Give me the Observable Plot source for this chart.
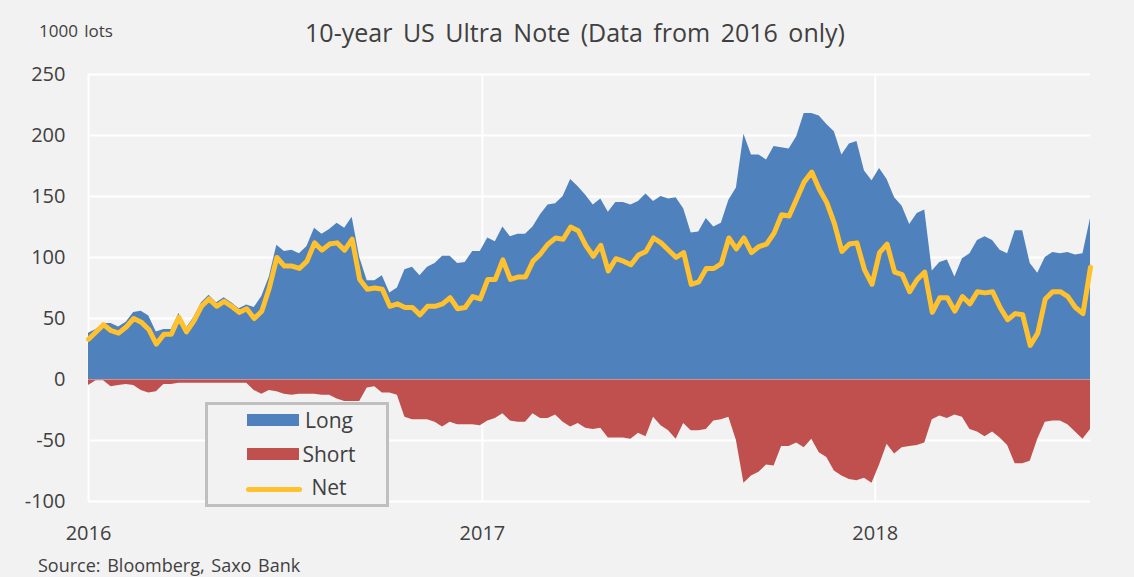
<!DOCTYPE html>
<html>
<head>
<meta charset="utf-8">
<script src="https://cdn.jsdelivr.net/npm/d3@7"></script>
<script src="https://cdn.jsdelivr.net/npm/@observablehq/plot@0.6"></script>
<style>
  html, body { margin: 0; padding: 0; background: #f2f2f2; }
  #wrap { position: relative; width: 1134px; height: 577px; overflow: hidden; background: #f2f2f2;
          font-family: "Open Sans", sans-serif; color: #404040; }
  #chart { position: absolute; left: 0; top: 0; }
  .txt { position: absolute; white-space: nowrap; line-height: normal; }
  #title { top: 15px; left: 575px; transform: translateX(-50%); font-size: 25px; word-spacing: 4px; }
  #unit { top: 19px; left: 39px; font-size: 17px; word-spacing: 2px; }
  #source { top: 553px; left: 38px; font-size: 18px; word-spacing: 2px; }
  #legend { position: absolute; left: 205px; top: 402px; width: 178px; height: 99px;
            border: 3px solid #bfbfbf; background: #f2f2f2; }
  .sw { position: absolute; }
  .lt { position: absolute; font-size: 21px; line-height: normal; transform: translateX(-50%); }
</style>
</head>
<body>
<div id="wrap">
  <div id="chart"></div>
  <div id="title" class="txt"></div>
  <div id="unit" class="txt"></div>
  <div id="source" class="txt"></div>
  <div id="legend"></div>
</div>
<script>
// Weekly positioning, first report week 2016-01-01
const firstWeek = [2016, 0, 1];

const longPos = [38, 41, 46, 46, 43, 47, 55, 56, 52, 39,
  41, 41, 54, 42, 51, 63, 69, 63, 67, 63,
  58, 61, 59, 68, 84, 110, 105, 106, 103, 109,
  124, 119, 123, 128, 124, 133, 100, 81, 81, 85,
  71, 75, 90, 92, 85, 92, 95, 101, 101, 95,
  96, 105, 105, 116, 113, 125, 117, 119, 119, 125,
  135, 143, 144, 150, 164, 158, 151, 143, 148, 137,
  145, 145, 143, 146, 152, 146, 150, 148, 149, 140,
  120, 121, 132, 125, 128, 147, 157, 201, 184, 184,
  180, 191, 190, 189, 199, 218, 218, 216, 209, 203,
  184, 193, 195, 171, 163, 173, 164, 149, 142, 127,
  136, 139, 89, 96, 98, 84, 99, 103, 114, 117,
  114, 106, 103, 122, 122, 95, 87, 100, 104, 103,
  104, 102, 103, 132];

const shortPos = [-5, -1, -1, -6, -5, -4, -5, -9, -11, -10,
  -4, -4, -3, -3, -3, -3, -3, -3, -3, -3,
  -3, -3, -9, -12, -9, -10, -12, -13, -12, -12,
  -12, -13, -13, -16, -18, -18, -18, -7, -6, -11,
  -11, -13, -31, -33, -33, -33, -35, -39, -35, -37,
  -37, -37, -38, -34, -32, -28, -34, -35, -35, -28,
  -32, -32, -29, -35, -39, -36, -40, -41, -40, -48,
  -48, -48, -49, -44, -47, -31, -38, -42, -49, -36,
  -42, -42, -41, -34, -33, -31, -50, -85, -79, -76,
  -70, -71, -55, -55, -52, -56, -49, -60, -64, -75,
  -79, -82, -83, -81, -85, -70, -53, -61, -56, -55,
  -54, -52, -33, -30, -32, -29, -31, -41, -43, -47,
  -43, -48, -54, -69, -69, -67, -49, -35, -34, -34,
  -37, -43, -49, -41];

const netPos = [33, 39, 45, 40, 38, 43, 50, 47, 41, 29,
  37, 37, 51, 39, 48, 60, 66, 60, 64, 60,
  55, 58, 50, 56, 75, 100, 93, 93, 91, 97,
  112, 106, 111, 112, 106, 115, 82, 74, 75, 74,
  60, 62, 59, 59, 53, 60, 60, 62, 67, 58,
  59, 68, 66, 82, 82, 98, 82, 84, 84, 97,
  103, 111, 116, 115, 125, 122, 110, 101, 110, 89,
  99, 97, 94, 102, 105, 116, 112, 106, 100, 104,
  78, 80, 91, 91, 95, 116, 107, 116, 104, 109,
  111, 120, 135, 134, 148, 162, 170, 156, 145, 128,
  105, 111, 112, 90, 78, 104, 111, 88, 86, 72,
  82, 88, 55, 67, 67, 56, 68, 62, 72, 71,
  72, 59, 49, 54, 53, 28, 38, 66, 72, 72,
  68, 59, 54, 92];

const yTicks = [-100, -50, 0, 50, 100, 150, 200, 250];
const yearTicks = [2016, 2017, 2018];
const seriesNames = ["Long", "Short", "Net"];
const seriesColors = ["#4f81bd", "#c0504d", "#ffc12d"];
const titleText = "10-year US Ultra Note (Data from 2016 only)";
const unitText = "1000 lots";
const sourceText = "Source: Bloomberg, Saxo Bank";

const data = longPos.map((v, i) => ({
  date: new Date(Date.UTC(firstWeek[0], firstWeek[1], firstWeek[2] + 7 * i)),
  long: v,
  short: shortPos[i],
  net: netPos[i]
}));
const years = yearTicks.map(y => new Date(Date.UTC(y, 0, 1)));

const chart = Plot.plot({
  width: 1134,
  height: 577,
  marginLeft: 88,
  marginRight: 44,
  marginTop: 74,
  marginBottom: 76,
  style: { background: "transparent", fontFamily: "Open Sans, sans-serif", color: "#404040", overflow: "visible" },
  x: { type: "utc", domain: [data[0].date, data[data.length - 1].date] },
  y: { domain: [-100, 250] },
  marks: [
    Plot.gridY(yTicks, { stroke: "white", strokeWidth: 2, strokeOpacity: 1 }),
    Plot.gridX(years, { stroke: "white", strokeWidth: 2, strokeOpacity: 1 }),
    Plot.areaY(data, { x: "date", y: "long", fill: seriesColors[0] }),
    Plot.areaY(data, { x: "date", y: "short", fill: seriesColors[1] }),
    Plot.ruleY([0], { stroke: "white", strokeOpacity: 0.35, strokeWidth: 1 }),
    Plot.lineY(data, { x: "date", y: "net", stroke: seriesColors[2], strokeWidth: 5,
                       strokeLinejoin: "round", strokeLinecap: "round" }),
    Plot.axisY(yTicks, { tickSize: 0, tickPadding: 23, fontSize: 20, label: null, tickFormat: d => String(d) }),
    Plot.axisX(years, { tickSize: 0, tickPadding: 24, fontSize: 20, label: null, tickFormat: d => String(d.getUTCFullYear()) })
  ]
});
document.getElementById("chart").appendChild(chart);

document.getElementById("title").textContent = titleText;
document.getElementById("unit").textContent = unitText;
document.getElementById("source").textContent = sourceText;

// Legend (positions relative to legend box at left 205, top 402)
const legend = document.getElementById("legend");
const rows = [
  { type: "box", top: 9, text: 1 },
  { type: "box", top: 43, text: 35 },
  { type: "line", top: 82, text: 68 }
];
rows.forEach((r, i) => {
  const sw = document.createElement("div");
  sw.className = "sw";
  if (r.type === "box") {
    sw.style.cssText = `left:39px;top:${r.top}px;width:52px;height:12px;background:${seriesColors[i]}`;
  } else {
    sw.style.cssText = `left:38px;top:${r.top}px;width:56px;height:5px;border-radius:3px;background:${seriesColors[i]}`;
  }
  legend.appendChild(sw);
  const t = document.createElement("div");
  t.className = "lt";
  t.style.left = "121px";
  t.style.top = r.text + "px";
  t.textContent = seriesNames[i];
  legend.appendChild(t);
});
</script>
</body>
</html>
